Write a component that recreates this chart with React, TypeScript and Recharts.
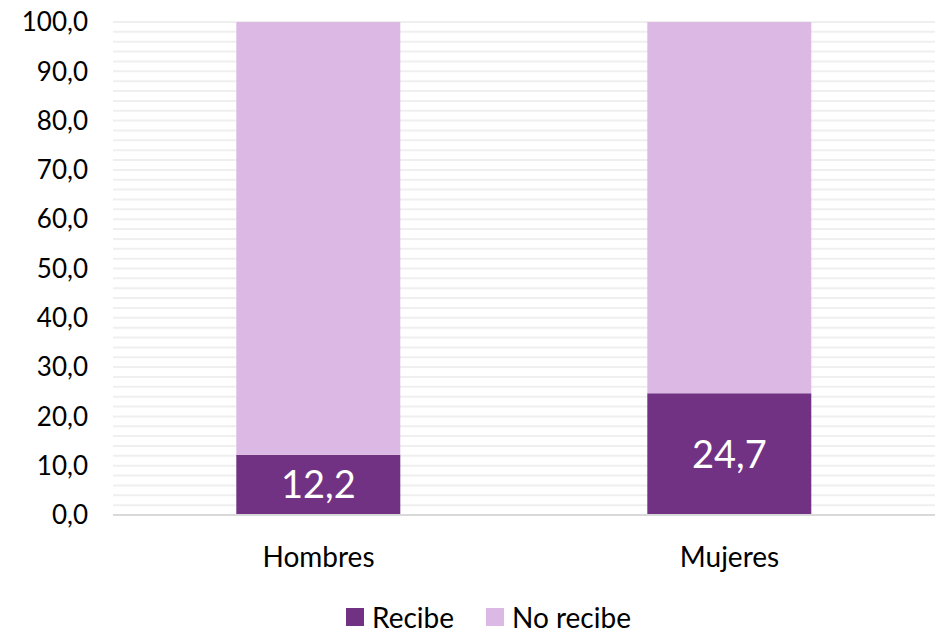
import { Bar, BarChart, CartesianGrid, LabelList, Legend, XAxis, YAxis } from "recharts";

const categories = ["Hombres", "Mujeres"];
const recibe = [12.2, 24.7];
const noRecibe = [87.8, 75.3];
const yTicks = [0, 10, 20, 30, 40, 50, 60, 70, 80, 90, 100];
const gridValues = [
  0, 2, 4, 6, 8, 10, 12, 14, 16, 18, 20, 22, 24, 26, 28, 30, 32, 34, 36, 38, 40, 42, 44, 46, 48, 50,
  52, 54, 56, 58, 60, 62, 64, 66, 68, 70, 72, 74, 76, 78, 80, 82, 84, 86, 88, 90, 92, 94, 96, 98, 100,
];

const data = categories.map((name, i) => ({
  name,
  recibe: recibe[i],
  noRecibe: noRecibe[i],
}));

const DARK = "#713284";
const LIGHT = "#dcb9e4";
const FONT = "Lato, 'Open Sans', sans-serif";

const fmt = (v: number) => v.toFixed(1).replace(".", ",");

// minor gridlines every 2 units, placed with the y axis scale
const gridCoords = ({ yAxis, offset }: any) => {
  if (yAxis && typeof yAxis.scale === "function") {
    return gridValues.map((v) => yAxis.scale(v));
  }
  return gridValues.map((v) => offset.top + offset.height * (1 - v / 100));
};

function LegendBox() {
  const items = [
    { label: "Recibe", color: DARK },
    { label: "No recibe", color: LIGHT },
  ];
  return (
    <div style={{ display: "flex", alignItems: "center", fontFamily: FONT, fontSize: 28, color: "#000" }}>
      {items.map((it) => (
        <div key={it.label} style={{ display: "flex", alignItems: "center", marginRight: 32 }}>
          <span style={{ width: 18, height: 18, background: it.color, display: "inline-block", marginRight: 8 }} />
          <span>{it.label}</span>
        </div>
      ))}
    </div>
  );
}

export default function App() {
  return (
    <div style={{ position: "absolute", left: 0, top: 0, background: "#fff" }}>
      <BarChart
        width={946}
        height={633}
        data={data}
        margin={{ top: 22, right: 11, left: 0, bottom: 0 }}
        barCategoryGap="30%"
      >
        <CartesianGrid
          vertical={false}
          horizontalCoordinatesGenerator={gridCoords}
          stroke="#efefef"
          strokeWidth={2}
        />
        <XAxis
          dataKey="name"
          height={118}
          tickLine={false}
          axisLine={{ stroke: "#d9d9d9", strokeWidth: 2 }}
          tickMargin={26}
          tick={{ fill: "#000", fontSize: 28, fontFamily: FONT }}
        />
        <YAxis
          width={113}
          domain={[0, 100]}
          ticks={yTicks}
          tickFormatter={fmt}
          tickLine={false}
          axisLine={false}
          tickMargin={19}
          tick={{ fill: "#000", fontSize: 26, fontFamily: FONT }}
        />
        <Legend
          verticalAlign="middle"
          align="center"
          content={<LegendBox />}
          wrapperStyle={{ position: "absolute", top: 600, left: 346, width: "auto" }}
        />
        <Bar dataKey="recibe" stackId="a" fill={DARK} isAnimationActive={false}>
          <LabelList
            dataKey="recibe"
            position="center"
            formatter={(v: any) => fmt(Number(v))}
            fill="#fff"
            style={{ fontSize: 38, fontFamily: FONT }}
          />
        </Bar>
        <Bar dataKey="noRecibe" stackId="a" fill={LIGHT} isAnimationActive={false} />
      </BarChart>
    </div>
  );
}
